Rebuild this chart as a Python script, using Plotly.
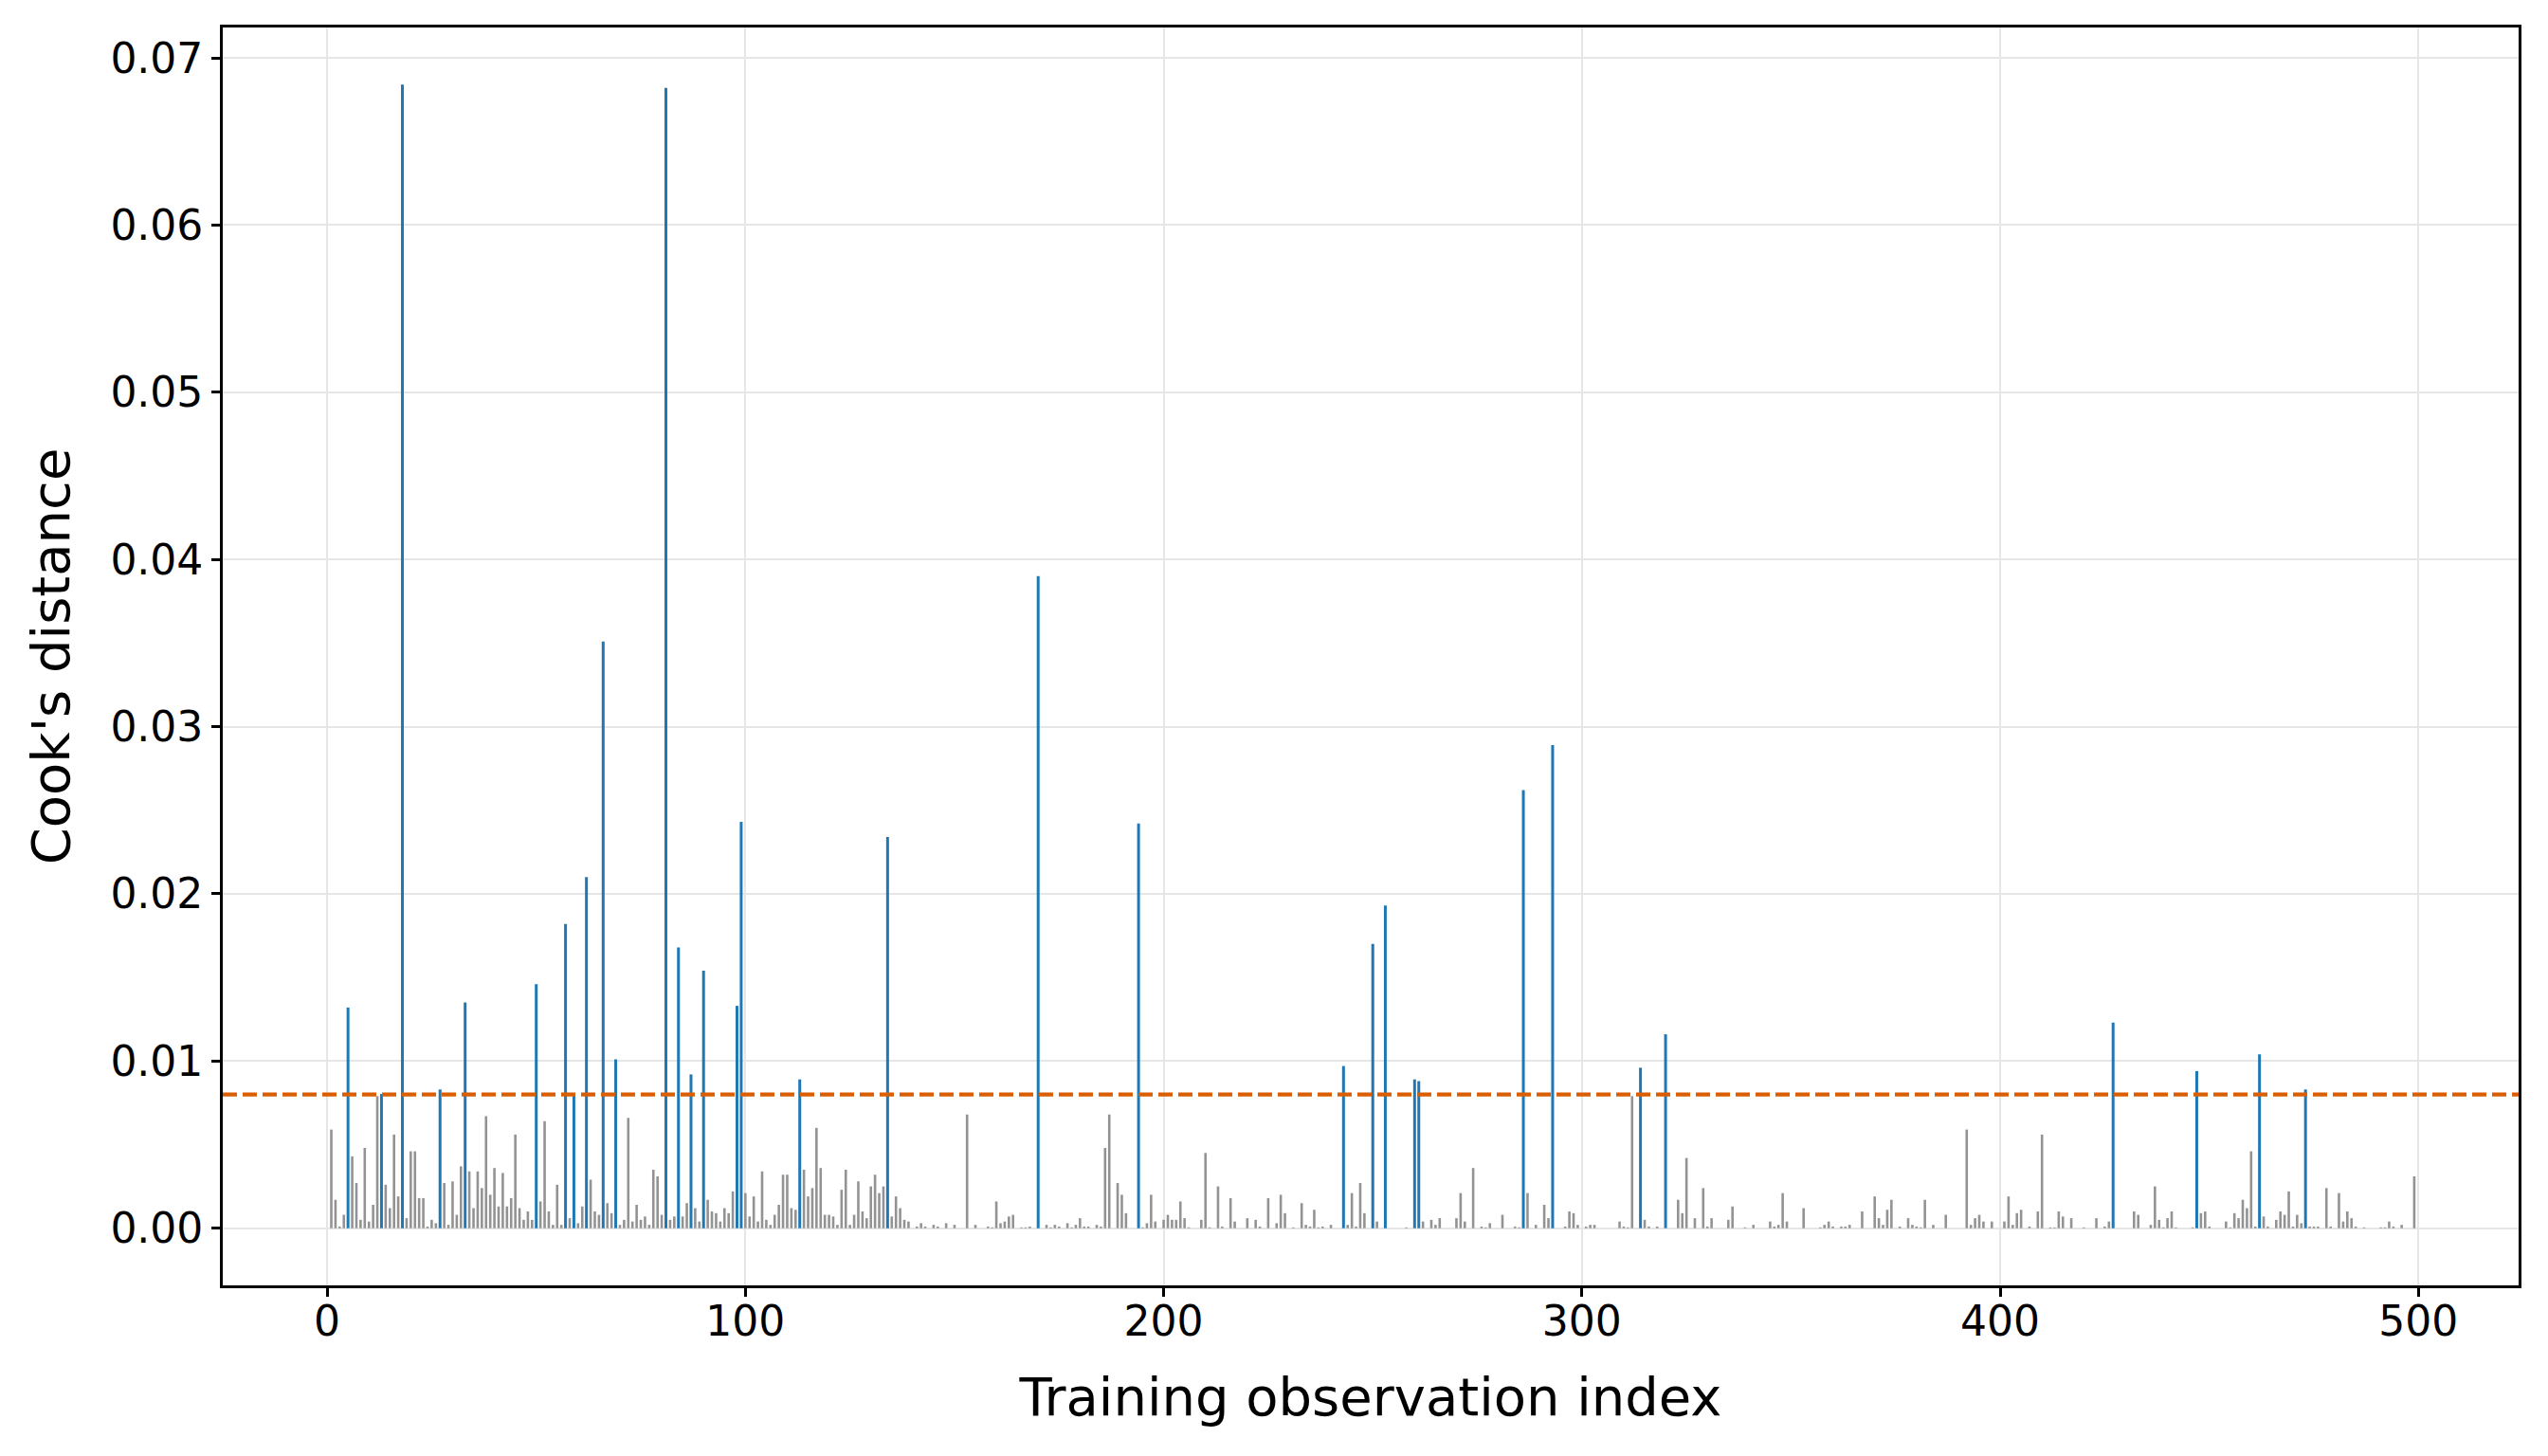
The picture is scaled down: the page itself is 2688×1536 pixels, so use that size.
import plotly.graph_objects as go

# Cook's distance per training observation (100 per block)
cooks_000 = [
    0, 0.0059, 0.0017, 0.0001, 0.0008, 0.0132, 0.0043, 0.0027, 0.0005, 0.0048,
    0.0004, 0.0014, 0.0079, 0.00803, 0.0026, 0.0012, 0.0056, 0.0019, 0.0684, 0.0006,
    0.0046, 0.0046, 0.0018, 0.0018, 0.0001, 0.0005, 0.0003, 0.0083, 0.0027, 0.0002,
    0.0028, 0.0008, 0.0037, 0.0135, 0.0034, 0.0012, 0.0034, 0.0024, 0.0067, 0.0020,
    0.0036, 0.0013, 0.0033, 0.0013, 0.0018, 0.0056, 0.0012, 0.0005, 0.0010, 0.0005,
    0.0146, 0.0016, 0.0064, 0.0010, 0.0002, 0.0026, 0.0002, 0.0182, 0.0006, 0.00803,
    0.0003, 0.0013, 0.0210, 0.0029, 0.0010, 0.0008, 0.0351, 0.0015, 0.0009, 0.0101,
    0.0002, 0.0005, 0.0066, 0.0004, 0.0014, 0.0005, 0.0007, 0.0002, 0.0035, 0.0031,
    0.0008, 0.0682, 0.0005, 0.0007, 0.0168, 0.0007, 0.0015, 0.0092, 0.0012, 0.0004,
    0.0154, 0.0017, 0.0010, 0.0009, 0.0004, 0.0012, 0.0009, 0.0022, 0.0133, 0.0243,
]
cooks_100 = [
    0.0021, 0.0007, 0.0019, 0.0004, 0.0034, 0.0005, 0.0002, 0.0008, 0.0014, 0.0032,
    0.0032, 0.0012, 0.0011, 0.0089, 0.0035, 0.0019, 0.0024, 0.0060, 0.0036, 0.0008,
    0.0008, 0.0007, 0.0002, 0.0023, 0.0035, 0.0002, 0.0008, 0.0028, 0.0010, 0.0006,
    0.0025, 0.0032, 0.0021, 0.0025, 0.0234, 0.0007, 0.0019, 0.0012, 0.0005, 0.0004,
    0, 0.0001, 0.0003, 0.0001, 0, 0.0002, 0.0001, 0, 0.0003, 0,
    0.0002, 0, 0, 0.0068, 0, 0.0002, 0, 0, 0.0001, 0.00005,
    0.0016, 0.0003, 0.0004, 0.0007, 0.0008, 0, 0.00005, 0.00005, 0.0001, 0,
    0.0390, 0, 0.0002, 0.00005, 0.0002, 0.0001, 0, 0.0003, 0.00005, 0.0002,
    0.0006, 0.0001, 0.0001, 0, 0.0002, 0.0001, 0.0048, 0.0068, 0, 0.0027,
    0.0020, 0.0009, 0, 0, 0.0242, 0.00005, 0.0003, 0.0020, 0.0004, 0,
]
cooks_200 = [
    0.0005, 0.0008, 0.0005, 0.0005, 0.0016, 0.0006, 0.00005, 0, 0, 0.0005,
    0.0045, 0.00005, 0, 0.0025, 0.0001, 0, 0.0018, 0.0004, 0, 0,
    0.0006, 0, 0.0005, 0.0001, 0, 0.0018, 0, 0.0003, 0.0020, 0.0009,
    0, 0.00005, 0, 0.0015, 0.0002, 0.0001, 0.0011, 0.00005, 0.0001, 0,
    0.0002, 0, 0, 0.0097, 0.0002, 0.0021, 0.0001, 0.0027, 0.0009, 0,
    0.0170, 0.0004, 0, 0.0193, 0, 0, 0, 0, 0.00005, 0,
    0.0089, 0.0088, 0.0004, 0, 0.0005, 0.0002, 0.0006, 0, 0, 0,
    0.0006, 0.0021, 0.0004, 0, 0.0036, 0, 0.0001, 0.00005, 0.0003, 0,
    0, 0.0008, 0, 0, 0.0001, 0.00005, 0.0262, 0.0021, 0, 0.0002,
    0, 0.0014, 0.0006, 0.0289, 0, 0, 0.0001, 0.0010, 0.0009, 0.0002,
]
cooks_300 = [
    0, 0.0001, 0.0002, 0.0002, 0, 0, 0, 0, 0, 0.0004,
    0.0001, 0.00005, 0.0079, 0, 0.0096, 0.0005, 0.0001, 0, 0.0001, 0,
    0.0116, 0, 0, 0.0017, 0.0009, 0.0042, 0, 0.0006, 0, 0.0024,
    0.0001, 0.0006, 0, 0, 0, 0.0005, 0.0013, 0, 0, 0.00005,
    0, 0.0002, 0, 0, 0, 0.0004, 0.0001, 0.0002, 0.0021, 0.0004,
    0, 0, 0, 0.0012, 0, 0, 0, 0.00005, 0.0002, 0.0004,
    0.0001, 0, 0.0001, 0.0001, 0.0002, 0, 0, 0.0010, 0, 0,
    0.0019, 0.0006, 0.0002, 0.0011, 0.0017, 0, 0.0001, 0, 0.0006, 0.0002,
    0.0001, 0.00005, 0.0017, 0, 0.0002, 0, 0, 0.0008, 0, 0,
    0, 0, 0.0059, 0.0002, 0.0006, 0.0008, 0.0004, 0, 0.0004, 0,
]
cooks_400 = [
    0, 0.0004, 0.0019, 0.0002, 0.0009, 0.0011, 0, 0.0001, 0, 0.0010,
    0.0056, 0, 0.00005, 0.00005, 0.0010, 0.0007, 0, 0.0006, 0, 0,
    0.00005, 0, 0, 0.0006, 0, 0.0001, 0.0004, 0.0123, 0, 0,
    0, 0, 0.0010, 0.0008, 0, 0, 0.0002, 0.0025, 0.0005, 0.00005,
    0.0006, 0.0010, 0.00005, 0, 0, 0, 0.00005, 0.0094, 0.0009, 0.0010,
    0.0001, 0, 0, 0, 0.0004, 0.00005, 0.0009, 0.0006, 0.0017, 0.0012,
    0.0046, 0.0001, 0.0104, 0.0007, 0.0001, 0, 0.0005, 0.0010, 0.0008, 0.0022,
    0.0001, 0.0008, 0.0003, 0.0083, 0.0001, 0.0001, 0.0001, 0, 0.0024, 0.0001,
    0, 0.0021, 0.0004, 0.0010, 0.0006, 0.0001, 0, 0.00005, 0, 0,
    0, 0.00005, 0.00005, 0.0004, 0.0001, 0, 0.0002, 0, 0, 0.0031,
]

cooks_d = cooks_000 + cooks_100 + cooks_200 + cooks_300 + cooks_400
obs_index = list(range(len(cooks_d)))
n_obs = len(cooks_d)
threshold = 4 / n_obs  # 4/n rule

# split into stems above / below the threshold
def stems(keep):
    xs, ys = [], []
    for i, d in zip(obs_index, cooks_d):
        if keep(d):
            xs += [i, i, None]
            ys += [0, d, None]
    return xs, ys

low_x, low_y = stems(lambda d: d <= threshold)
high_x, high_y = stems(lambda d: d > threshold)

fig = go.Figure()
fig.add_trace(go.Scatter(x=low_x, y=low_y, mode="lines",
                         line=dict(color="#939393", width=2.6), hoverinfo="skip"))
fig.add_trace(go.Scatter(x=high_x, y=high_y, mode="lines",
                         line=dict(color="#1f77b4", width=3), hoverinfo="skip"))
fig.add_hline(y=threshold, line=dict(color="#d95f02", width=4.2, dash="15px,6px"))

pad_x = 0.05 * (max(obs_index) - min(obs_index))
pad_y = 0.05 * max(cooks_d)

axis_style = dict(
    showline=True, mirror=True, linecolor="black", linewidth=2.7,
    ticks="outside", ticklen=9, tickwidth=2.7, tickcolor="black",
    showgrid=True, gridcolor="#e6e6e6", gridwidth=1.7, zeroline=False,
    tickfont=dict(size=44, color="black"),
)

# page body has an 8px margin, so the figure is 8px smaller than the window
fig.update_layout(
    width=2680, height=1528,
    margin=dict(l=227, r=31, t=21, b=180),
    plot_bgcolor="white", paper_bgcolor="white",
    showlegend=False,
    font=dict(family="DejaVu Sans", color="black"),
    xaxis=dict(axis_style, range=[min(obs_index) - pad_x, max(obs_index) + pad_x],
               dtick=100, tick0=0, ticklabelstandoff=-12,
               title=dict(text="Training observation index", font=dict(size=56), standoff=37)),
    yaxis=dict(axis_style, range=[-pad_y, max(cooks_d) + pad_y],
               dtick=0.01, tick0=0, tickformat=".2f",
               title=dict(text="Cook's distance", font=dict(size=56), standoff=25)),
)

fig.write_html("out.html")
